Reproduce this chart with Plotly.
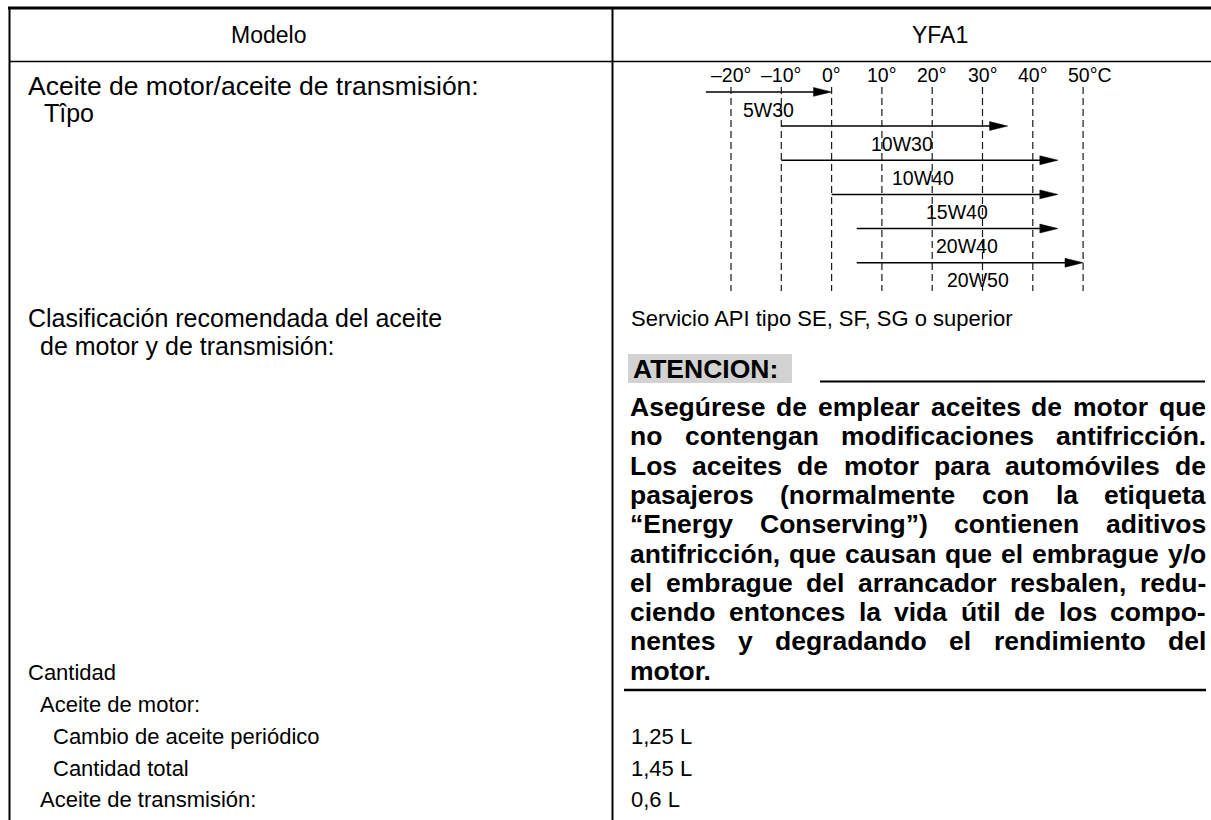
import plotly.graph_objects as go

# ---------------- data ----------------
header_left = "Modelo"
header_right = "YFA1"

temp_ticks = [-20, -10, 0, 10, 20, 30, 40, 50]
temp_tick_labels = ["–20°", "–10°", "0°", "10°", "20°", "30°", "40°", "50°C"]

grades = ["5W30", "10W30", "10W40", "15W40", "20W40", "20W50"]
grade_from = [-25, -10, -10, 0, 5, 5]
grade_to = [0, 35, 45, 45, 45, 50]
grade_label_at = [-12.6, 14.0, 18.2, 24.9, 27.0, 29.1]

upper_left_texts = [
    "Aceite de motor/aceite de transmisión:",
    "Tîpo",
    "Clasificación recomendada del aceite",
    "de motor y de transmisión:",
]
lower_left_texts = [
    "Cantidad",
    "Aceite de motor:",
    "Cambio de aceite periódico",
    "Cantidad total",
    "Aceite de transmisión:",
]
classification = "Servicio API tipo SE, SF, SG o superior"
caution_title = "ATENCION:"
caution_lines = [
    "Asegúrese de emplear aceites de motor que",
    "no contengan modificaciones antifricción.",
    "Los aceites de motor para automóviles de",
    "pasajeros (normalmente con la etiqueta",
    "“Energy Conserving”) contienen aditivos",
    "antifricción, que causan que el embrague y/o",
    "el embrague del arrancador resbalen, redu-",
    "ciendo entonces la vida útil de los compo-",
    "nentes y degradando el rendimiento del",
    "motor.",
]
quantities = ["1,25 L", "1,45 L", "0,6 L"]

# ---------------- layout constants ----------------
W, H = 1211, 820
FONT = "Liberation Sans, Arial, Helvetica, sans-serif"
REG = 22
BIG = 25
BOLD = 26.5
SMALL = 19.5
INK = "#000000"

# temperature scale: pixel position of -20 deg and pixels per degree
PX_M20 = 731.0
PX_PER_DEG = 5.03
# grade rows: pixel of row 0 and pixels per row
ROW0 = 91.9
ROW_PX = 34.16

x2_range = [-20 - PX_M20 / PX_PER_DEG, -20 + (W - PX_M20) / PX_PER_DEG]
y2_range = [(H - ROW0) / ROW_PX, -ROW0 / ROW_PX]

# Helvetica-Bold widths (per 1000 em) for justification
BW = {
    'a': 556, 'b': 611, 'c': 556, 'd': 611, 'e': 556, 'f': 333, 'g': 611, 'h': 611,
    'i': 278, 'j': 278, 'k': 556, 'l': 278, 'm': 889, 'n': 611, 'o': 611, 'p': 611,
    'q': 611, 'r': 389, 's': 556, 't': 333, 'u': 611, 'v': 556, 'w': 778, 'x': 556,
    'y': 556, 'z': 500, 'A': 722, 'C': 722, 'E': 667, 'L': 611, '(': 333, ')': 333,
    ',': 278, '.': 278, '/': 278, '-': 333, '“': 500, '”': 500, ':': 333, ' ': 278,
    'á': 556, 'é': 556, 'í': 278, 'ó': 611, 'ú': 611,
}


def bold_width(s, size):
    return sum(BW.get(ch, 580) for ch in s) / 1000.0 * size


fig = go.Figure()

# invisible anchor trace for pixel axes
fig.add_trace(go.Scatter(x=[0, W], y=[0, H], mode="markers", marker=dict(opacity=0),
                         hoverinfo="skip", showlegend=False, xaxis="x", yaxis="y"))

# ---------------- arrows (temperature chart) ----------------
HEAD_LEN = 3.6    # degrees
HEAD_HALF = 0.13  # rows
for i, (g, a, b) in enumerate(zip(grades, grade_from, grade_to)):
    fig.add_trace(go.Scatter(
        x=[a, b - HEAD_LEN * 0.6], y=[i, i], mode="lines",
        line=dict(color="#000000", width=1.5),
        hoverinfo="skip", showlegend=False, xaxis="x2", yaxis="y2"))
    fig.add_trace(go.Scatter(
        x=[b - HEAD_LEN, b, b - HEAD_LEN, b - HEAD_LEN],
        y=[i - HEAD_HALF, i, i + HEAD_HALF, i - HEAD_HALF],
        mode="lines", fill="toself", fillcolor="#000000",
        line=dict(color="#000000", width=0.5),
        hoverinfo="skip", showlegend=False, xaxis="x2", yaxis="y2"))

shapes = []
annotations = []


def line(x0, y0, x1, y1, w, xref="x", yref="y", dash=None, color=INK):
    d = dict(type="line", x0=x0, y0=y0, x1=x1, y1=y1, xref=xref, yref=yref,
             line=dict(color=color, width=w))
    if dash:
        d["line"]["dash"] = dash
    shapes.append(d)


def text(t, x, y, size=REG, anchor="left", bold=False, xref="x", yref="y", xshift=0):
    annotations.append(dict(
        text=("<b>%s</b>" % t) if bold else t, x=x, y=y, xref=xref, yref=yref,
        xanchor=anchor, yanchor="middle", showarrow=False, xshift=xshift,
        font=dict(family=FONT, size=size, color=INK), borderpad=0, borderwidth=0))


# table frame
line(8, 8, W, 8, 3)
line(9.5, 8, 9.5, H, 2)
line(9, 61.5, W, 61.5, 1.5)
line(612.5, 8, 612.5, H, 2)

# header
text(header_left, 268, 34.5, size=23, anchor="center")
text(header_right, 940, 34.5, size=23, anchor="center")

# dashed temperature guides + labels
for t, lab in zip(temp_ticks, temp_tick_labels):
    line(t, 87, t, 291, 1.2, xref="x2", yref="y", dash="7px,4px", color="#1a1a1a")
    text(lab, t, 75, size=SMALL, anchor="center", xref="x2", yref="y",
         xshift=(7 if lab.endswith("C") else 0))

for i, (g, p) in enumerate(zip(grades, grade_label_at)):
    text(g, p, i + 0.52, size=SMALL, anchor="center", xref="x2", yref="y2")

# left column
upper_pos = [(28, 86), (44, 113), (28, 318), (40, 346)]
upper_size = [26.5, BIG, BIG, BIG]
for t, (x, y), s in zip(upper_left_texts, upper_pos, upper_size):
    text(t, x, y, size=s)
lower_pos = [(28, 672), (40, 704), (53, 736), (53, 768), (40, 799)]
for t, (x, y) in zip(lower_left_texts, lower_pos):
    text(t, x, y)

# right column
text(classification, 631, 318)
for q, y in zip(quantities, [736, 768, 799]):
    text(q, 631, y)

# caution block
shapes.append(dict(type="rect", x0=628, x1=792, y0=354, y1=383, xref="x", yref="y",
                   fillcolor="#d2d2d2", line=dict(width=0), layer="below"))
text(caution_title, 633, 369, size=BOLD, bold=True)
line(820, 381.5, 1205, 381.5, 2)

PL, PR = 630.0, 1206.0
for k, ln in enumerate(caution_lines):
    y = 407 + 29.3 * k
    words = ln.split(" ")
    if k == len(caution_lines) - 1 or len(words) == 1:
        text(ln, PL, y, size=BOLD, bold=True)
        continue
    widths = [bold_width(w, BOLD) for w in words]
    gap = (PR - PL - sum(widths)) / (len(words) - 1)
    x = PL
    for j, (w, ww) in enumerate(zip(words, widths)):
        if j == len(words) - 1:
            text(w, PR, y, size=BOLD, bold=True, anchor="right")
        else:
            text(w, x, y, size=BOLD, bold=True)
        x += ww + gap

line(624, 690, 1206, 690, 2.5)

fig.update_layout(
    width=W, height=H, autosize=False,
    margin=dict(l=0, r=0, t=0, b=0, pad=0),
    paper_bgcolor="white", plot_bgcolor="white",
    showlegend=False,
    xaxis=dict(range=[0, W], domain=[0, 1], visible=False, fixedrange=True),
    yaxis=dict(range=[H, 0], domain=[0, 1], visible=False, fixedrange=True),
    xaxis2=dict(range=x2_range, domain=[0, 1], overlaying="x", visible=False,
                fixedrange=True, anchor="y2"),
    yaxis2=dict(range=y2_range, domain=[0, 1], overlaying="y", visible=False,
                fixedrange=True, anchor="x2"),
    shapes=shapes,
    annotations=annotations,
)

fig.write_html("out.html", config={"displayModeBar": False},
               post_script="document.body.style.margin='0';document.body.style.overflow='hidden';")
